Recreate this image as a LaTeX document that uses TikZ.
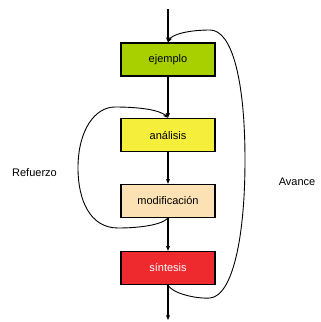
\documentclass[tikz,border=0pt]{standalone}
\usepackage{fontspec}
\setmainfont{Liberation Sans}
\usetikzlibrary{arrows.meta}
\definecolor{cgreen}{HTML}{A8D000}
\definecolor{cyellow}{HTML}{F5EF3C}
\definecolor{cwheat}{HTML}{FBE1B3}
\definecolor{cred}{HTML}{EE2A2F}
\tikzset{
  stagebox/.style={draw=black, line width=1.3pt, minimum width=94pt, minimum height=33pt, inner sep=0pt, font=\fontsize{11}{13}\selectfont},
  flow/.style={line width=1.3pt, -{Stealth[length=5pt,width=4pt]}},
  loopline/.style={line width=0.9pt, -{Stealth[length=5pt,width=4pt]}},
  lbl/.style={font=\fontsize{11}{13}\selectfont, inner sep=0pt}
}
\begin{document}
\begin{tikzpicture}[x=1pt,y=-1pt]
\useasboundingbox (0,0) rectangle (321,322);
\coordinate (top) at (168,9);
\coordinate (bot) at (168,320);
\node[stagebox, fill=cgreen] (e) at (168,59.5) {ejemplo};
\node[stagebox, fill=cyellow] (a) at (168,135) {análisis};
\node[stagebox, fill=cwheat] (m) at (168,201) {modificación};
\node[stagebox, fill=cred, text=white] (s) at (168,268) {síntesis};
\draw[flow] (top) -- (e.north);
\draw[flow] (e.south) -- (a.north);
\draw[flow] (a.south) -- (m.north);
\draw[flow] (m.south) -- (s.north);
\draw[flow] (s.south) -- (bot);
\draw[loopline] (s.south) .. controls (172,293) and (195,299) .. (210,298)
  .. controls (232,296) and (245,240) .. (245,160)
  .. controls (245,80) and (232,30) .. (210,30)
  .. controls (190,30) and (172,34) .. (e.north);
\draw[loopline] (m.south) .. controls (160,226) and (135,228) .. (118,228)
  .. controls (90,228) and (78,200) .. (78,168)
  .. controls (78,130) and (95,107) .. (115,107)
  .. controls (140,107) and (160,110) .. (a.north);
\node[lbl] (ref) at (34.5,173) {Refuerzo};
\node[lbl] (ava) at (297,182) {Avance};
\end{tikzpicture}
\end{document}
